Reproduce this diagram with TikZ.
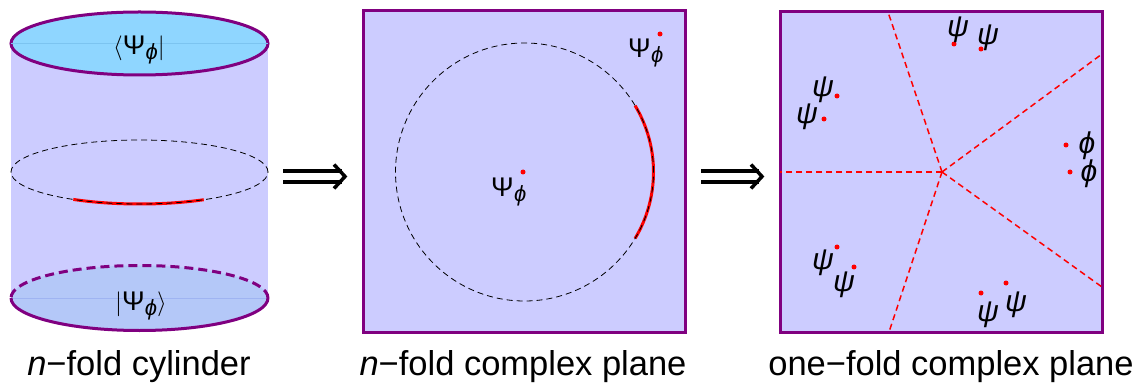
\documentclass[tikz,border=0pt]{standalone}
\usepackage{fontspec}
\setmainfont{Liberation Sans}
\usetikzlibrary{calc}
\definecolor{lav}{HTML}{CCCCFF}
\definecolor{topblue}{HTML}{8FD6FF}
\definecolor{botblue}{HTML}{B4C8F8}
\definecolor{topline}{HTML}{7CC4F0}
\definecolor{botline}{HTML}{9FB4F2}
\definecolor{purp}{HTML}{800080}
\newcommand\Psiphi{Ψ\kern0.3pt\raisebox{-5pt}{\fontsize{22}{22}\selectfont\itshape ϕ}}
\tikzset{
  caption/.style={anchor=base, inner sep=0pt, font=\fontsize{34.5}{40}\selectfont},
  psilabel/.style={inner sep=0pt, font=\fontsize{27}{30}\selectfont},
  greek/.style={inner sep=0pt, font=\fontsize{30}{34}\selectfont\itshape},
  reddot/.style={circle, fill=red, inner sep=0pt, minimum size=5pt},
  panel/.style={draw=purp, line width=3pt, fill=lav, minimum width=322pt, minimum height=321pt, inner sep=0pt},
  rim/.style={draw=purp, line width=3pt},
  thindash/.style={draw=black, line width=0.8pt, dash pattern=on 6pt off 4pt},
  redarc/.style={draw=red, line width=3pt},
  cutline/.style={draw=red, line width=1.5pt, dash pattern=on 6pt off 4pt},
  dblshaft/.style={draw=black, line width=3.5pt, double=white, double distance=7.5pt},
  chevron/.style={draw=black, line width=3.5pt, line join=miter},
}
\begin{document}
\begin{tikzpicture}[x=1pt,y=1pt]
\useasboundingbox (0,0) rectangle (1137,383);
% ---------- cylinder ----------
\coordinate (ctop) at (139.5,339.5);
\coordinate (cmid) at (139.5,211);
\coordinate (cbot) at (139.5,85);
\fill[lav] (11,85) rectangle (268,339.5);
\draw[rim, fill=topblue] (ctop) ellipse [x radius=128.5pt, y radius=31.5pt];
\draw[topline, line width=0.6pt] (11,339.5) -- (268,339.5);
\fill[botblue] (cbot) ellipse [x radius=128.5pt, y radius=32.5pt];
\draw[botline, line width=0.6pt] (11,85) -- (268,85);
\draw[rim] ($(cbot)+(128.5,0)$) arc [start angle=0, end angle=-180, x radius=128.5pt, y radius=32.5pt];
\draw[rim, dash pattern=on 9pt off 5pt] ($(cbot)+(128.5,0)$) arc [start angle=0, end angle=180, x radius=128.5pt, y radius=32.5pt];
\draw[redarc] (cmid) ++(239:128.5pt and 32pt) arc [start angle=239, end angle=300, x radius=128.5pt, y radius=32pt];
\draw[thindash] (cmid) ellipse [x radius=128.5pt, y radius=32pt];
\node[psilabel, anchor=base] (bra) at (139,328) {$\langle$\Psiphi$|$};
\node[psilabel, anchor=base] (ket) at (141,73) {$|$\Psiphi$\rangle$};
\node[caption] (cap1) at (139,8) {\itshape n\upshape −fold cylinder};
% ---------- n-fold plane ----------
\node[panel] (p2) at (524,211.5) {};
\coordinate (cc) at (524.5,211);
\draw[redarc] (cc) ++(-31:129pt) arc [start angle=-31, end angle=31, radius=129pt];
\draw[thindash] (cc) circle [radius=129pt];
\node[reddot] (d0) at (523,211) {};
\node[psilabel, anchor=base west] (l0) at (491,186) {\Psiphi};
\node[reddot] (d1) at (660,349) {};
\node[psilabel, anchor=base west] (l1) at (628,325) {\Psiphi};
\node[caption] (cap2) at (523,8) {\itshape n\upshape −fold complex plane};
% ---------- one-fold plane ----------
\node[panel, minimum height=320pt] (p3) at (941,211) {};
\coordinate (star) at (942,211);
\coordinate (e1) at (780,211);
\coordinate (e2) at (888,371);
\coordinate (e3) at (1102,329);
\coordinate (e4) at (1102,96);
\coordinate (e5) at (889,51);
\foreach \e in {e1,e2,e3,e4,e5} \draw[cutline] (star) -- (\e);
\node[reddot] (t1) at (954,339) {}; \node[greek] (gt1) at (958,353) {ψ};
\node[reddot] (t2) at (981,334) {}; \node[greek] (gt2) at (988,345) {ψ};
\node[reddot] (m1) at (837,287) {}; \node[greek] (gm1) at (823,293) {ψ};
\node[reddot] (m2) at (824,264) {}; \node[greek] (gm2) at (807,266) {ψ};
\node[reddot] (r1) at (1066,238) {}; \node[greek] (gr1) at (1087,237) {ϕ};
\node[reddot] (r2) at (1070,211) {}; \node[greek] (gr2) at (1089,209) {ϕ};
\node[reddot] (b1) at (837,136) {}; \node[greek] (gb1) at (823,120) {ψ};
\node[reddot] (b2) at (854,116) {}; \node[greek] (gb2) at (844,98) {ψ};
\node[reddot] (s1) at (981,90) {}; \node[greek] (gs1) at (988,68) {ψ};
\node[reddot] (s2) at (1006,100) {}; \node[greek] (gs2) at (1016,78) {ψ};
\node[caption] (cap3) at (951,8) {one−fold complex plane};
% ---------- arrows ----------
\coordinate (a1s) at (283,206.5);
\coordinate (a1e) at (346,206.5);
\coordinate (a2s) at (701,206.5);
\coordinate (a2e) at (763,206.5);
\draw[dblshaft] (a1s) -- ([xshift=-4pt]a1e);
\draw[chevron] ([xshift=-12pt,yshift=12pt]a1e) -- ([xshift=-1pt]a1e) -- ([xshift=-12pt,yshift=-12pt]a1e);
\draw[dblshaft] (a2s) -- ([xshift=-4pt]a2e);
\draw[chevron] ([xshift=-12pt,yshift=12pt]a2e) -- ([xshift=-1pt]a2e) -- ([xshift=-12pt,yshift=-12pt]a2e);
\end{tikzpicture}
\end{document}
